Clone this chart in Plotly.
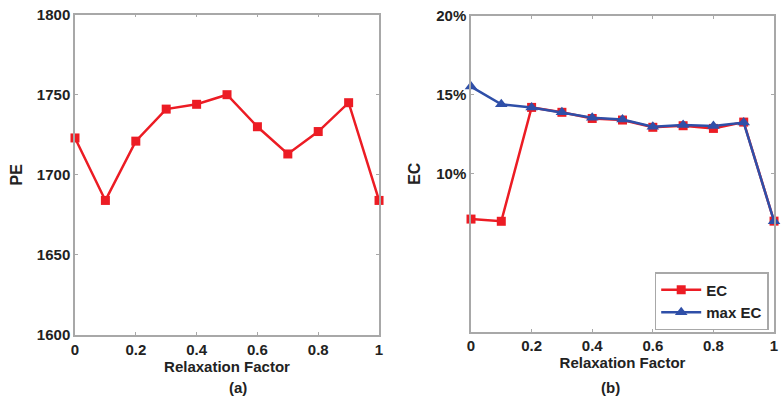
import plotly.graph_objects as go

relax = [0, 0.1, 0.2, 0.3, 0.4, 0.5, 0.6, 0.7, 0.8, 0.9, 1.0]
pe = [1723, 1684, 1721, 1741, 1744, 1750, 1730, 1713, 1727, 1745, 1684]
ec = [0.0713, 0.0699, 0.1420, 0.1389, 0.1350, 0.1340, 0.1294, 0.1304, 0.1287, 0.1327, 0.0700]
max_ec = [0.1552, 0.1440, 0.1420, 0.1389, 0.1355, 0.1343, 0.1297, 0.1309, 0.1303, 0.1324, 0.0700]
pe_ticks = [1600, 1650, 1700, 1750, 1800]
ec_ticks = [0.10, 0.15, 0.20]
x_ticks = [0, 0.2, 0.4, 0.6, 0.8, 1]
x_ticktext = ["0", "0.2", "0.4", "0.6", "0.8", "1"]

RED = "#ec1c24"
BLUE = "#2f4fa8"
FRAME = "#a8a8a8"
TXT = "#222222"
FONT = "Liberation Sans"

fig = go.Figure()
fig.add_trace(go.Scatter(x=relax, y=pe, mode="lines+markers", xaxis="x", yaxis="y",
                         line=dict(color=RED, width=2.5),
                         marker=dict(symbol="square", size=9, color=RED),
                         showlegend=False, cliponaxis=False))
fig.add_trace(go.Scatter(x=relax, y=ec, mode="lines+markers", xaxis="x2", yaxis="y2",
                         name="EC", line=dict(color=RED, width=2.5),
                         marker=dict(symbol="square", size=9, color=RED), cliponaxis=False))
fig.add_trace(go.Scatter(x=relax, y=max_ec, mode="lines+markers", xaxis="x2", yaxis="y2",
                         name="max EC", line=dict(color=BLUE, width=2.5),
                         marker=dict(symbol="triangle-up", size=11, color=BLUE), cliponaxis=False))

tickfont = dict(family=FONT, size=15, color=TXT, weight="bold")
axis_common = dict(showline=True, linecolor=FRAME, linewidth=1.5, mirror="ticks",
                   ticks="inside", ticklen=3, tickcolor=FRAME, showgrid=False, zeroline=False,
                   tickfont=tickfont, automargin=False)
xtitle_font = dict(family=FONT, size=15, color=TXT, weight="bold")
ytitle_font = dict(family=FONT, size=16, color=TXT, weight="bold")

fig.update_layout(
    width=782, height=405,
    margin=dict(l=0, r=0, t=0, b=0),
    paper_bgcolor="white", plot_bgcolor="white",
    font=dict(family=FONT, color=TXT),
    xaxis=dict(domain=[0.0959, 0.4847], range=[0, 1], tickvals=x_ticks, ticktext=x_ticktext,
               anchor="y",
               title=dict(text="Relaxation Factor", font=xtitle_font, standoff=2),
               **axis_common),
    yaxis=dict(domain=[0.1728, 0.964], range=[1600, 1800], tickvals=pe_ticks, anchor="x",
               title=dict(text="PE", font=ytitle_font, standoff=10),
               **axis_common),
    xaxis2=dict(domain=[0.6023, 0.9898], range=[0, 1], tickvals=x_ticks, ticktext=x_ticktext,
                anchor="y2",
                title=dict(text="Relaxation Factor", font=xtitle_font, standoff=2),
                **axis_common),
    yaxis2=dict(domain=[0.181, 0.961], range=[0, 0.20], tickvals=ec_ticks, tickformat=".0%",
                anchor="x2",
                title=dict(text="EC", font=ytitle_font, standoff=12),
                **axis_common),
    legend=dict(x=0.983, y=0.185, xanchor="right", yanchor="bottom",
                bgcolor="white", bordercolor=FRAME, borderwidth=1.5,
                font=dict(family=FONT, size=15, color=TXT, weight="bold"),
                tracegroupgap=0, itemwidth=40),
    annotations=[
        dict(text="(a)", x=0.29, y=0.042, xref="paper", yref="paper", yanchor="middle",
             showarrow=False, font=dict(family=FONT, size=15, color=TXT, weight="bold")),
        dict(text="(b)", x=0.796, y=0.042, xref="paper", yref="paper", yanchor="middle",
             showarrow=False, font=dict(family=FONT, size=15, color=TXT, weight="bold")),
    ],
)

fig.write_html("out.html", config={"displayModeBar": False},
               post_script="document.body.style.margin='0';document.body.style.overflow='hidden';")
